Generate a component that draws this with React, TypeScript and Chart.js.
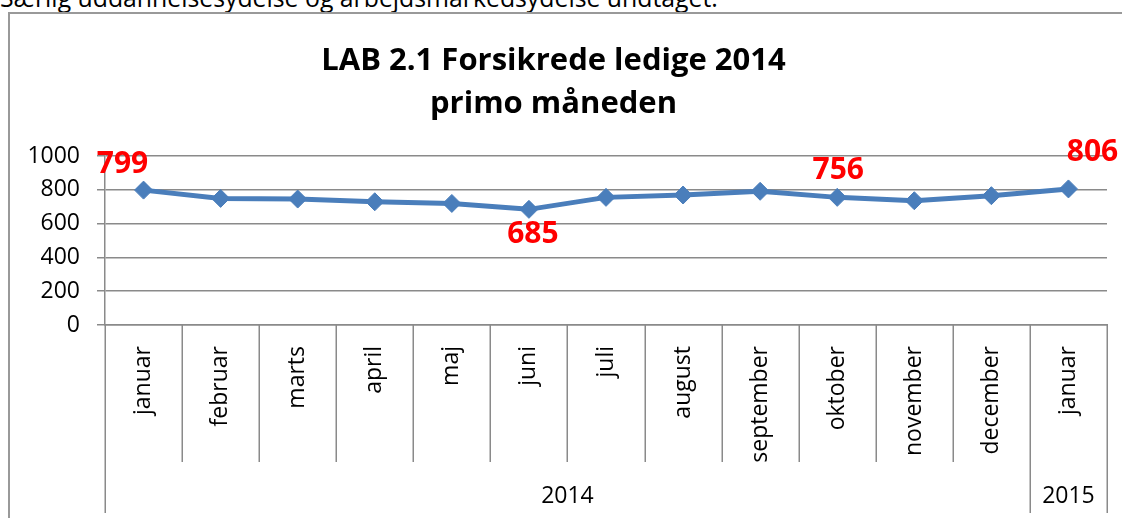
import React, { useEffect, useRef } from "react";
import { Chart, registerables } from "chart.js";

Chart.register(...registerables);

// ---- data ----
const months = [
  "januar", "februar", "marts", "april", "maj", "juni", "juli",
  "august", "september", "oktober", "november", "december", "januar",
];
const values = [799, 750, 746, 730, 720, 685, 756, 770, 792, 756, 736, 766, 806];
const yearLabels = ["2014", "2015"];
const yearSpans = [12, 1];
const titleLines = ["LAB 2.1 Forsikrede ledige 2014", "primo måneden"];
const noteText = "Særlig uddannelsesydelse og arbejdsmarkedsydelse undtaget.";
const labelledPoints = [0, 5, 9, 12];

// ---- style ----
const FONT = "'Open Sans', 'Liberation Sans', sans-serif";
const GRAY = "#8a8a8a";
const LINE_BLUE = "#4a7ebb";
const labelOffsets: [number, number][] = [[-21, -26], [4, 25], [1, -27], [24, -36]];

const W = 1142;
const H = 518;

const overlayPlugin = {
  id: "overlay",
  afterDraw(chart: any) {
    const ctx = chart.ctx;
    const xs = chart.scales.x;
    const bottom = chart.chartArea.bottom;
    ctx.save();
    ctx.strokeStyle = GRAY;
    ctx.lineWidth = 1.5;
    // year boundaries
    const yearBounds = new Set<number>([0]);
    let acc = 0;
    yearSpans.forEach((s) => { acc += s; yearBounds.add(acc); });
    for (let i = 0; i <= months.length; i++) {
      const x = Math.round(xs.getPixelForValue(i - 0.5)) + 0.25;
      const len = yearBounds.has(i) ? 188 : 137;
      ctx.beginPath();
      ctx.moveTo(x, bottom);
      ctx.lineTo(x, bottom + len);
      ctx.stroke();
    }
    // year labels
    ctx.fillStyle = "#000";
    ctx.font = `23px ${FONT}`;
    ctx.textAlign = "center";
    ctx.textBaseline = "middle";
    let start = 0;
    yearLabels.forEach((lab, k) => {
      const end = start + yearSpans[k];
      const x0 = xs.getPixelForValue(start - 0.5);
      const x1 = xs.getPixelForValue(end - 0.5);
      ctx.fillText(lab, (x0 + x1) / 2, bottom + 171);
      start = end;
    });
    // data labels
    const meta = chart.getDatasetMeta(0);
    ctx.fillStyle = "#ff0000";
    ctx.font = `bold 30px ${FONT}`;
    labelledPoints.forEach((idx, k) => {
      const pt = meta.data[idx];
      const [dx, dy] = labelOffsets[k];
      ctx.fillText(String(values[idx]), pt.x + dx, pt.y + dy);
    });
    ctx.restore();
  },
};

export default function App() {
  const ref = useRef<HTMLCanvasElement | null>(null);

  useEffect(() => {
    if (!ref.current) return;
    const chart = new Chart(ref.current, {
      type: "line",
      data: {
        labels: months,
        datasets: [
          {
            data: values,
            borderColor: LINE_BLUE,
            backgroundColor: LINE_BLUE,
            borderWidth: 5,
            pointStyle: "rectRot",
            pointRadius: 9,
            pointBackgroundColor: LINE_BLUE,
            pointBorderColor: LINE_BLUE,
            pointBorderWidth: 1,
            tension: 0,
          },
        ],
      },
      options: {
        animation: false,
        responsive: false,
        devicePixelRatio: 1,
        layout: { padding: { left: 0, right: 35, top: 0, bottom: 0 } },
        plugins: {
          legend: { display: false },
          tooltip: { enabled: false },
          title: {
            display: true,
            text: titleLines,
            color: "#000",
            font: { family: FONT, size: 31, weight: "bold", lineHeight: 1.39 },
            padding: { top: 40, bottom: 30 },
          },
        },
        scales: {
          x: {
            type: "category",
            offset: true,
            grid: { display: false },
            border: { display: true, color: GRAY, width: 1.5 },
            ticks: {
              autoSkip: false,
              minRotation: 90,
              maxRotation: 90,
              color: "#000",
              font: { family: FONT, size: 23 },
              padding: 13,
            },
            afterFit: (scale: any) => { scale.height = H - 325; },
          },
          y: {
            min: 0,
            max: 1000,
            ticks: {
              stepSize: 200,
              color: "#000",
              font: { family: FONT, size: 23 },
              padding: 17,
              callback: (v: any) => String(v),
            },
            grid: { color: GRAY, lineWidth: 1.5, tickLength: 8 },
            border: { display: true, color: GRAY, width: 1.5 },
            afterFit: (scale: any) => { scale.width = 105; },
          },
        },
      },
      plugins: [overlayPlugin],
    });
    return () => chart.destroy();
  }, []);

  return (
    <div
      style={{
        position: "fixed",
        left: 0,
        top: 0,
        width: 1122,
        height: 518,
        overflow: "hidden",
        background: "#fff",
      }}
    >
      <div
        style={{
          position: "absolute",
          left: 0,
          top: -15,
          fontFamily: FONT,
          fontSize: 24.8,
          lineHeight: "24.8px",
          whiteSpace: "nowrap",
          color: "#000",
        }}
      >
        {noteText}
      </div>
      <div
        style={{
          position: "absolute",
          left: 8,
          top: 12,
          width: 1300,
          height: 700,
          borderLeft: "2px solid #999",
          borderTop: "2px solid #999",
        }}
      />
      <canvas
        ref={ref}
        width={W}
        height={H}
        style={{ position: "absolute", left: 0, top: 0, width: W, height: H }}
      />
    </div>
  );
}
